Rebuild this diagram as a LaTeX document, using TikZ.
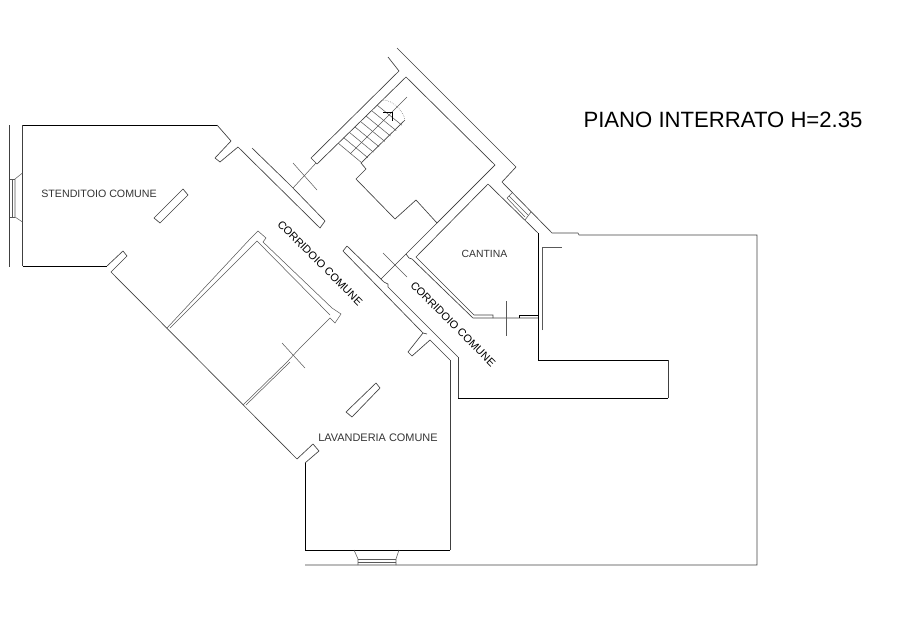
\documentclass[tikz,border=0pt]{standalone}
\usepackage{fontspec}
\setmainfont{Liberation Sans}
\tikzset{
	wall/.style={line width=0.5pt, black!75},
	thinwall/.style={line width=0.4pt, black!65},
	heavywall/.style={line width=0.6pt, black},
	roomlabel/.style={font=\fontsize{8.2}{10}\selectfont, black!80, inner sep=0pt},
	corridorlabel/.style={font=\fontsize{8.2}{10}\selectfont, black, inner sep=0pt, rotate=-45}
}
\begin{document}
\begin{tikzpicture}[x=0.75pt, y=-0.75pt]
	\useasboundingbox (0,0) rectangle (908,622);
	% stenditoio
	\draw[wall] (9.5,125) -- (9.5,267);
	\draw[wall] (238,147) -- (320,228) -- (325,221) -- (293,188) -- (287,182) -- (252,148);
	\draw[wall] (238,147) -- (220,162) -- (215,158) -- (231,141) -- (217,125);
	\draw[heavywall] (217,125) -- (22.5,125);
	\draw[wall] (22.5,125) -- (22.5,266);
	\draw[heavywall] (22.5,266) -- (107,266);
	\draw[wall] (107,266) -- (123,251) -- (127,256) -- (111,272) -- (297,459);
	\draw[thinwall] (22.5,173) -- (15,179) -- (15,217) -- (22.5,222);
	\draw[thinwall] (9.5,179) -- (15,179) (9.5,217) -- (15,217) (12,179) -- (12,217);
	\draw[wall] (183,189) -- (188,195) -- (160,223) -- (154,218) -- cycle;
	% vano scala
	\draw[wall] (388,57) -- (399,71) -- (311,158) -- (317,164) -- (406,77) -- (495,165) -- (437,223) -- (416,200) -- (395,219) -- (356,179) -- (366,169) -- (361,163) -- (405,120);
	\draw[wall] (397,48) -- (516,167) -- (502,182) -- (552,233) -- (578,233) -- (579,235) -- (757,235) -- (757,565) -- (305,565);
	\foreach \i in {0,...,7}
		\draw[thinwall] ({338+5.6*\i},{143-5.4*\i}) -- ({362+5.7*\i},{163-5.4*\i});
	\draw[thinwall] (350,154) -- (407,97);
	\draw[thinwall, densely dotted] (383,100) .. controls (392,100) and (403,110) .. (405,120);
	\draw[heavywall] (383,112) -- (392,112) -- (392,121);
	% porte
	\draw[thinwall] (293,163) -- (317,190);
	\draw[thinwall] (316,163) -- (293,188);
	\draw[thinwall] (383,253) -- (407,277);
	% cantina
	\draw[wall] (495,165) -- (381,279);
	\draw[wall] (406,254) -- (409,258) -- (412,259) -- (473,318) -- (538,318);
	\draw[wall] (488,184) -- (416,257) -- (474,315) -- (493,315) -- (493,318);
	\draw[wall] (488,184) -- (538,233);
	\draw[heavywall] (538,233) -- (538,360) -- (668,360);
	\draw[wall] (668,360) -- (668,398);
	\draw[heavywall] (668,398) -- (458,398);
	\draw[wall] (458,398) -- (458,357);
	\draw[heavywall] (519,318) -- (519,315) -- (538,315);
	\draw[thinwall] (506,301) -- (506,336);
	\draw[thinwall] (542,330) -- (542,247) -- (562,247);
	\draw[thinwall] (512,193) -- (507,198) (531,212) -- (525,220);
	\draw[thinwall] (509,196) -- (528,215) (507,198) -- (525,217);
	% corridoio
	\draw[wall] (347,246) -- (384,282) -- (388,284) -- (388,287) -- (458,357);
	\draw[wall] (347,246) -- (343,251) -- (423,333) -- (408,352) -- (412,356) -- (430,340) -- (450,360);
	\draw[wall] (423,333) -- (427,334);
	% locale centrale
	\draw[thinwall] (167,328) -- (250,239) -- (258,231) -- (266,238) -- (263,242) -- (332,308) -- (341,314) -- (335,323) -- (330,318) -- (300,348);
	\draw[thinwall] (170,328) -- (257,241) -- (330,315);
	\draw[thinwall] (287,362) -- (243,405) (290,362) -- (246,405);
	\draw[thinwall] (300,348) -- (287,362);
	\draw[thinwall] (282,343) -- (305,368);
	% lavanderia
	\draw[wall] (297,459) -- (313,444) -- (319,451) -- (305,463);
	\draw[heavywall] (305,463) -- (305,550) -- (450,550);
	\draw[wall] (450,550) -- (450,360);
	\draw[wall] (376,383) -- (380,388) -- (352,417) -- (346,412) -- cycle;
	\draw[thinwall] (354,550) -- (358,559) -- (358,565) (399,550) -- (396,559) -- (396,565);
	\draw[thinwall] (358,559) -- (396,559) (358,562) -- (396,562);
	% scritte
	\node[roomlabel, font=\fontsize{8}{10}\selectfont] (stenditoio) at (99,194) {STENDITOIO COMUNE};
	\node[roomlabel] (lavanderia) at (378,438) {LAVANDERIA COMUNE};
	\node[roomlabel, font=\fontsize{7.8}{10}\selectfont] (cantina) at (484.5,254) {CANTINA};
	\node[corridorlabel] (corridoioA) at (320,263) {CORRIDOIO COMUNE};
	\node[corridorlabel] (corridoioB) at (453,324) {CORRIDOIO COMUNE};
	\node[font=\fontsize{16.6}{18}\selectfont, inner sep=0pt] (titolo) at (723,120) {PIANO INTERRATO H=2.35};
\end{tikzpicture}
\end{document}
